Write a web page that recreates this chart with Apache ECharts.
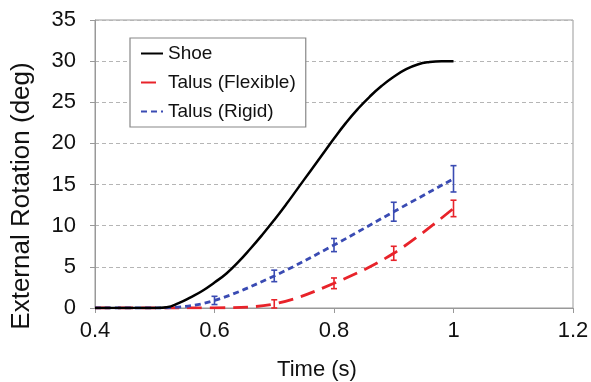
<!DOCTYPE html>
<html>
<head>
<meta charset="utf-8">
<script src="https://cdn.jsdelivr.net/npm/echarts@6/dist/echarts.min.js"></script>
<style>
  html, body { margin: 0; padding: 0; background: #fff; }
  #chart { width: 591px; height: 382px; }
</style>
</head>
<body>
<div id="chart"></div>
<script>
// shoe rotation
const shoeT = [0.40, 0.50, 0.52, 0.54, 0.56, 0.58, 0.60, 0.62, 0.64, 0.66, 0.68, 0.70, 0.72, 0.74, 0.76, 0.78, 0.80, 0.82, 0.84, 0.86, 0.88, 0.90, 0.92, 0.94, 0.96, 0.98, 1.00];
const shoeDeg = [0, 0, 0.1, 0.6, 1.3, 2.1, 3.1, 4.2, 5.6, 7.2, 8.9, 10.7, 12.6, 14.6, 16.6, 18.6, 20.6, 22.5, 24.2, 25.7, 27.0, 28.1, 29.0, 29.6, 29.9, 30.0, 30.0];

// talus, flexible
const flexT = [0.40, 0.50, 0.60, 0.70, 0.80, 0.90, 1.00];
const flexDeg = [0, 0, 0.02, 0.5, 3.0, 6.65, 12.1];

// talus, rigid
const rigidT = [0.40, 0.50, 0.53, 0.60, 0.70, 0.80, 0.90, 1.00];
const rigidDeg = [0, 0, 0.05, 0.92, 3.9, 7.65, 11.7, 15.7];

// error bars
const flexBarT = [0.7, 0.8, 0.9, 1.0];
const flexMean = [0.5, 3.0, 6.65, 12.1];
const flexErr = [0.5, 0.65, 0.85, 1.0];
const rigidBarT = [0.6, 0.7, 0.8, 0.9, 1.0];
const rigidMean = [0.92, 3.9, 7.65, 11.7, 15.7];
const rigidErr = [0.5, 0.7, 0.8, 1.15, 1.6];

const xTicks = [0.4, 0.6, 0.8, 1, 1.2];
const yTicks = [0, 5, 10, 15, 20, 25, 30, 35];

const RED = '#e8232a';
const BLUE = '#3a4bb3';
const FONT = 'Liberation Sans, Arial, sans-serif';

function pairs(xs, ys) {
  return xs.map((x, i) => [x, ys[i]]);
}
function barData(xs, mean, err) {
  return xs.map((x, i) => [x, mean[i] - err[i], mean[i] + err[i]]);
}
function errorBar(color) {
  return function (params, api) {
    const lo = api.coord([api.value(0), api.value(1)]);
    const hi = api.coord([api.value(0), api.value(2)]);
    const w = 3;
    const st = { stroke: color, lineWidth: 1.6 };
    return {
      type: 'group',
      children: [
        { type: 'line', shape: { x1: lo[0], y1: lo[1], x2: hi[0], y2: hi[1] }, style: st },
        { type: 'line', shape: { x1: lo[0] - w, y1: lo[1], x2: lo[0] + w, y2: lo[1] }, style: st },
        { type: 'line', shape: { x1: hi[0] - w, y1: hi[1], x2: hi[0] + w, y2: hi[1] }, style: st }
      ]
    };
  };
}

const chart = echarts.init(document.getElementById('chart'));
chart.setOption({
  animation: false,
  textStyle: { fontFamily: FONT },
  grid: {
    left: 95, right: 18, top: 20, bottom: 74,
    outerBoundsMode: 'none',
    show: true, borderColor: '#999', borderWidth: 1
  },
  legend: {
    data: ['Shoe', 'Talus (Flexible)', 'Talus (Rigid)'],
    orient: 'vertical',
    left: 130, top: 38,
    itemWidth: 22, itemHeight: 19, itemGap: 10,
    padding: [6, 10, 6, 10],
    backgroundColor: '#fff',
    borderColor: '#888', borderWidth: 1.2,
    itemStyle: { opacity: 0 },
    textStyle: { fontSize: 19, color: '#111', fontFamily: FONT }
  },
  xAxis: {
    type: 'value',
    min: xTicks[0], max: xTicks[xTicks.length - 1], interval: 0.2,
    name: 'Time (s)', nameLocation: 'middle', nameGap: 51,
    nameTextStyle: { fontSize: 22, color: '#111', fontFamily: FONT, padding: [0, 34, 0, 0] },
    axisLine: { show: true, lineStyle: { color: '#999' } },
    axisTick: { show: true, length: 5, lineStyle: { color: '#999' } },
    axisLabel: { fontSize: 22, color: '#111', margin: 12, fontFamily: FONT },
    splitLine: { show: false }
  },
  yAxis: {
    type: 'value',
    min: yTicks[0], max: yTicks[yTicks.length - 1], interval: 5,
    name: 'External Rotation (deg)', nameLocation: 'middle', nameGap: 60,
    nameTextStyle: { fontSize: 26, color: '#111', fontFamily: FONT, padding: [0, 64, 0, 0] },
    axisLine: { show: true, lineStyle: { color: '#999' } },
    axisTick: { show: true, length: 5, lineStyle: { color: '#999' } },
    axisLabel: { fontSize: 22, color: '#111', margin: 19, fontFamily: FONT },
    splitLine: { show: true, lineStyle: { color: '#b5b5b5', type: [4, 3], width: 1 } }
  },
  series: [
    {
      name: 'Shoe', type: 'line', data: pairs(shoeT, shoeDeg),
      smooth: true, symbol: 'none', z: 3,
      lineStyle: { color: '#000', width: 2.5 },
      itemStyle: { color: '#000' }
    },
    {
      name: 'Talus (Flexible)', type: 'line', data: pairs(flexT, flexDeg),
      smooth: 0.35, symbol: 'none', z: 2,
      lineStyle: { color: RED, width: 2.8, type: [15, 8] },
      itemStyle: { color: RED }
    },
    {
      name: 'Talus (Rigid)', type: 'line', data: pairs(rigidT, rigidDeg),
      smooth: 0.35, symbol: 'none', z: 2,
      lineStyle: { color: BLUE, width: 2.8, type: [6, 4] },
      itemStyle: { color: BLUE }
    },
    {
      name: 'flexErr', type: 'custom', renderItem: errorBar(RED),
      data: barData(flexBarT, flexMean, flexErr), z: 4,
      encode: { x: 0, y: [1, 2] }
    },
    {
      name: 'rigidErr', type: 'custom', renderItem: errorBar(BLUE),
      data: barData(rigidBarT, rigidMean, rigidErr), z: 4,
      encode: { x: 0, y: [1, 2] }
    }
  ]
});
</script>
</body>
</html>
